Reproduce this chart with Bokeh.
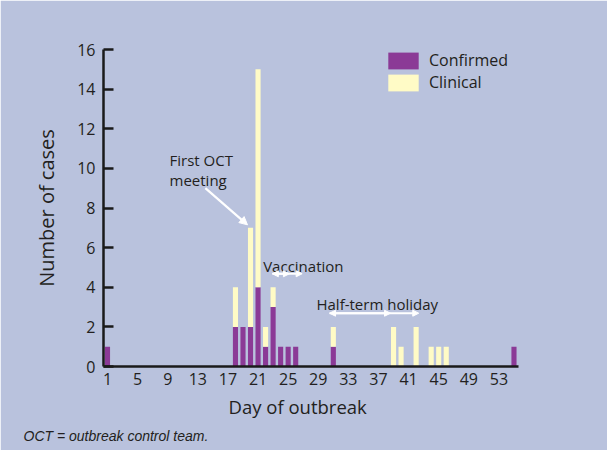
from bokeh.plotting import figure
from bokeh.models import (ColumnDataSource, Range1d, FixedTicker, Label, Arrow,
                          NormalHead, Title)
from bokeh.embed import file_html
from bokeh.resources import INLINE

# ---- data ----
days = [1, 18, 19, 20, 21, 22, 23, 24, 25, 26, 31, 39, 40, 42, 44, 45, 46, 55]
confirmed = [1, 2, 2, 2, 4, 1, 3, 1, 1, 1, 1, 0, 0, 0, 0, 0, 0, 1]
clinical = [0, 2, 0, 5, 11, 1, 1, 0, 0, 0, 1, 2, 1, 2, 1, 1, 1, 0]
series = ["Confirmed", "Clinical"]
x_ticks = [1, 5, 9, 13, 17, 21, 25, 29, 33, 37, 41, 45, 49, 53]
y_ticks = [0, 2, 4, 6, 8, 10, 12, 14, 16]

BG = "#b9c2dd"
PURPLE = "#8b3a96"
YELLOW = "#fffbc6"
TXT = "#231f20"
FONT = "Open Sans"

source = ColumnDataSource(dict(day=days, confirmed=confirmed, clinical=clinical))

p = figure(width=607, height=450,
           x_range=Range1d(0.469, 55.6), y_range=Range1d(0, 16),
           output_backend="svg", toolbar_location=None,
           min_border_left=103, min_border_right=89,
           min_border_top=49, min_border_bottom=84,
           background_fill_color=BG, border_fill_color=BG)
p.outline_line_color = BG
p.outline_line_width = 2
p.grid.visible = False

p.vbar_stack(["confirmed", "clinical"], x="day", width=0.68, source=source,
             fill_color=[PURPLE, YELLOW], line_color=None,
             legend_label=series)

# axes
xa = p.xaxis[0]
xa.ticker = FixedTicker(ticks=x_ticks)
xa.major_tick_in = 0
xa.major_tick_out = 0
xa.minor_tick_line_color = None
xa.axis_line_width = 2.5
xa.axis_line_color = "#1a1a1a"
xa.major_label_text_font = FONT
xa.major_label_text_font_size = "16px"
xa.major_label_text_color = TXT
xa.major_label_standoff = 6

ya = p.yaxis[0]
ya.ticker = FixedTicker(ticks=y_ticks)
ya.major_tick_in = 10
ya.major_tick_out = 0
ya.major_tick_line_width = 2.5
ya.major_tick_line_color = "#1a1a1a"
ya.minor_tick_line_color = None
ya.axis_line_width = 2.5
ya.axis_line_color = "#1a1a1a"
ya.major_label_text_font = FONT
ya.major_label_text_font_size = "16px"
ya.major_label_text_color = TXT
ya.major_label_standoff = 8
ya.axis_label = "Number of cases"
ya.axis_label_text_font = FONT
ya.axis_label_text_font_size = "20px"
ya.axis_label_text_font_style = "normal"
ya.axis_label_text_color = TXT
ya.axis_label_standoff = 14

# x title and footnote as titles below the plot
p.add_layout(Title(text="Day of outbreak", align="left", offset=125,
                   standoff=8, text_font=FONT, text_font_size="18.5px",
                   text_font_style="normal", text_color=TXT), "below")
p.add_layout(Title(text="OCT = outbreak control team.", align="left",
                   offset=-80, standoff=6, text_font="Liberation Sans",
                   text_font_style="italic", text_font_size="14px",
                   text_color=TXT), "below")

# legend
lg = p.legend[0]
lg.location = (281, 273)
lg.padding = 0
lg.margin = 0
lg.spacing = 0
lg.border_line_color = None
lg.background_fill_alpha = 0
lg.glyph_width = 38
lg.glyph_height = 21
lg.label_height = 21
lg.label_standoff = 7
lg.label_text_font = FONT
lg.label_text_font_size = "16px"
lg.label_text_color = TXT

# annotations
def txt(x, y, s):
    p.add_layout(Label(x=x, y=y, text=s, text_align="left",
                       text_baseline="alphabetic", text_font=FONT,
                       text_font_size="15px", text_color=TXT))

txt(9.24, 10.43, "First OCT")
txt(9.24, 9.42, "meeting")
txt(21.68, 5.06, "Vaccination")
txt(28.76, 3.17, "Half-term holiday")

def head():
    return NormalHead(size=6, fill_color="white", line_color="white")

p.add_layout(Arrow(x_start=14.0, y_start=9.0, x_end=19.6, y_end=7.15,
                   line_color="white", line_width=2.2,
                   end=NormalHead(size=8, fill_color="white", line_color="white")))
p.add_layout(Arrow(x_start=22.9, y_start=4.68, x_end=26.86, y_end=4.68,
                   line_color="white", line_width=2, start=head(), end=head()))
p.add_layout(Arrow(x_start=22.9, y_start=4.68, x_end=25.17, y_end=4.68,
                   line_color="white", line_width=2, end=head()))
p.add_layout(Arrow(x_start=30.5, y_start=2.69, x_end=42.35, y_end=2.69,
                   line_color="white", line_width=2, start=head(), end=head()))
p.add_layout(Arrow(x_start=30.5, y_start=2.69, x_end=38.6, y_end=2.69,
                   line_color="white", line_width=2, end=head()))

open("out.html", "w").write(file_html(p, INLINE))
